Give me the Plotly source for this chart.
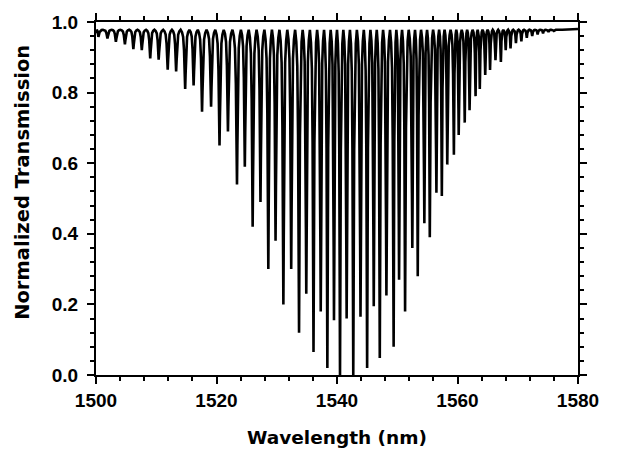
import plotly.graph_objects as go

# ---- data ----
# centre wavelength of each transmission dip (nm)
dip_center_nm = [
    1500.4, 1501.9, 1503.3, 1504.8, 1506.2, 1507.6, 1509.0, 1510.4, 1511.9, 1513.3,
    1514.8, 1516.2, 1517.6, 1519.1, 1520.5, 1521.9, 1523.4, 1524.7, 1526.0, 1527.3,
    1528.6, 1529.8, 1531.1, 1532.4, 1533.7, 1534.9, 1536.1, 1537.3, 1538.4, 1539.5,
    1540.5, 1541.6, 1542.7, 1543.9, 1545.0, 1546.1, 1547.1, 1548.2, 1549.4, 1550.3,
    1551.3, 1552.5, 1553.4, 1554.5, 1555.4, 1556.5, 1557.4, 1558.3, 1559.4, 1560.2,
    1561.2, 1562.0, 1563.0, 1563.7, 1564.6, 1565.4, 1566.3, 1567.2, 1568.0, 1568.8,
    1569.7, 1570.6, 1571.5, 1572.4, 1573.3, 1574.2, 1575.1, 1576.0, 1576.9,
]
# normalized transmission at the bottom of each dip
dip_min = [
    0.958, 0.953, 0.944, 0.937, 0.923, 0.920, 0.897, 0.893, 0.865, 0.860,
    0.810, 0.820, 0.746, 0.760, 0.650, 0.690, 0.540, 0.590, 0.420, 0.490,
    0.300, 0.380, 0.200, 0.300, 0.120, 0.230, 0.065, 0.180, 0.020, 0.155,
    0.000, 0.160, 0.000, 0.165, 0.020, 0.195, 0.048, 0.225, 0.080, 0.270,
    0.180, 0.360, 0.280, 0.430, 0.390, 0.516, 0.507, 0.596, 0.624, 0.680,
    0.715, 0.750, 0.790, 0.810, 0.850, 0.864, 0.892, 0.887, 0.920, 0.925,
    0.940, 0.945, 0.955, 0.960, 0.965, 0.968, 0.972, 0.975, 0.977,
]
peak_level = 0.978      # transmission between dips
start_level = 0.968     # value at 1500 nm
end_level = 0.980       # value at 1580 nm
x_tick_labels = ["1500", "1520", "1540", "1560", "1580"]
y_tick_labels = ["0.0", "0.2", "0.4", "0.6", "0.8", "1.0"]

# ---- rendering of each dip as a narrow polyline (shape only, style) ----
prof_off = [1.0, 0.7, 0.45, 0.25, 0.10]      # fraction of half-gap from centre
prof_dep = [0.0, 0.04, 0.12, 0.35, 0.75]     # fraction of dip depth

xs, ys = [1500.0], [start_level]
n = len(dip_center_nm)
for i in range(n):
    c, m = dip_center_nm[i], dip_min[i]
    prev_c = dip_center_nm[i - 1] if i > 0 else 1500.0 - (dip_center_nm[0] - 1500.0)
    next_c = dip_center_nm[i + 1] if i < n - 1 else c + 1.0
    hl, hr = (c - prev_c) / 2, (next_c - c) / 2
    D = peak_level - m
    for f, d in zip(prof_off, prof_dep):
        if i == 0 and f == 1.0:
            continue
        xs.append(c - f * hl)
        ys.append(peak_level - d * D)
    xs.append(c)
    ys.append(m)
    for f, d in zip(reversed(prof_off[1:]), reversed(prof_dep[1:])):
        xs.append(c + f * hr)
        ys.append(peak_level - d * D)
xs += [dip_center_nm[-1] + 0.5, 1580.0]
ys += [peak_level, end_level]

fig = go.Figure()
fig.add_trace(go.Scatter(x=xs, y=ys, mode="lines",
                         line=dict(color="black", width=2.6),
                         hoverinfo="skip", showlegend=False))

tickfont = dict(family="Liberation Sans, Arial", size=19, color="black", weight="bold")
axis_common = dict(showline=True, linewidth=2, linecolor="black", mirror="ticks",
                   ticks="outside", ticklen=7, tickwidth=2, tickcolor="black",
                   showgrid=False, zeroline=False, tickfont=tickfont)

fig.update_xaxes(range=[1500, 1580], tickmode="array",
                 tickvals=[int(t) for t in x_tick_labels], ticktext=x_tick_labels,
                 minor=dict(dtick=4, tick0=1500, ticks="outside", ticklen=4,
                            tickwidth=1.5, tickcolor="black", showgrid=False),
                 **axis_common)
fig.update_yaxes(range=[0, 1.0], tickmode="array",
                 tickvals=[float(t) for t in y_tick_labels], ticktext=y_tick_labels,
                 ticklabelstandoff=5,
                 minor=dict(dtick=0.04, tick0=0, ticks="outside", ticklen=4,
                            tickwidth=1.5, tickcolor="black", showgrid=False),
                 **axis_common)

fig.add_annotation(text="Normalized Transmission", xref="paper", yref="paper",
                   x=-0.153, y=0.545, textangle=-90, showarrow=False,
                   xanchor="center", yanchor="middle",
                   font=dict(family="DejaVu Sans", size=19.5, color="black", weight="bold"))
fig.add_annotation(text="Wavelength (nm)", xref="paper", yref="paper",
                   x=0.5, y=-0.177, showarrow=False,
                   xanchor="center", yanchor="middle",
                   font=dict(family="DejaVu Sans", size=18.5, color="black", weight="bold"))

fig.update_layout(width=620, height=449,
                  margin=dict(l=96, r=42, t=20, b=74),
                  plot_bgcolor="white", paper_bgcolor="white")

fig.write_html("out.html")
